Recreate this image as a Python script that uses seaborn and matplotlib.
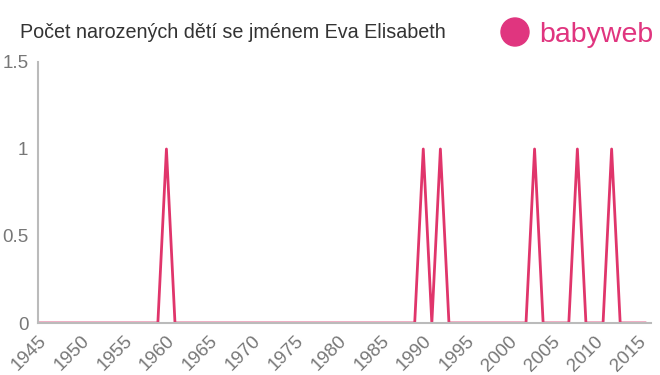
import matplotlib
matplotlib.use("Agg")
import matplotlib.pyplot as plt
import seaborn as sns
import pandas as pd
from matplotlib.patches import Ellipse

years = list(range(1945, 2017))
peak_years = [1960, 1990, 1992, 2003, 2008, 2012]
counts = [1 if y in peak_years else 0 for y in years]
xticks = list(range(1945, 2016, 5))
yticks = [0, 0.5, 1, 1.5]
ytick_labels = ["0", "0.5", "1", "1.5"]

df = pd.DataFrame({"year": years, "count": counts})

sns.set_theme(style="white")
plt.rcParams['font.family'] = ['Liberation Sans', 'DejaVu Sans']

W, H = 660, 375
fig = plt.figure(figsize=(6.6, 3.75), dpi=100)
ax = fig.add_axes([38/W, 1 - 323/H, (651-38)/W, (323-62)/H])

sns.lineplot(data=df, x="year", y="count", ax=ax, color="#e0356b", linewidth=2)

ax.set_xlim(1945, 2016.6)
ax.set_ylim(0, 1.5)
ax.set_xticks(xticks)
ax.set_xticklabels([str(x) for x in xticks], rotation=45, ha="right", rotation_mode="anchor")
ax.set_yticks(yticks)
ax.set_yticklabels(ytick_labels)
ax.set_xlabel("")
ax.set_ylabel("")
for s in ["top", "right"]:
    ax.spines[s].set_visible(False)
for s in ["left", "bottom"]:
    ax.spines[s].set_color("#bbbbbb")
    ax.spines[s].set_linewidth(1.5)
ax.tick_params(axis="both", colors="#bbbbbb", length=5, width=1.5, labelsize=13.5, labelcolor="#777777", pad=2)

fig.text(20/W, 1 - 32/H, "Počet narozených dětí se jménem Eva Elisabeth", fontsize=14.2, color="#333333", va="center", ha="left")

# logo
fig.patches.append(Ellipse((515/W, 1 - 32/H), 28/W, 28/H, transform=fig.transFigure, color="#e0357f", figure=fig))
fig.text(539/W, 1 - 35/H, "babyweb", fontsize=20.5, color="#e0357f", va="center", ha="left")

fig.savefig("out.png", dpi=100)
